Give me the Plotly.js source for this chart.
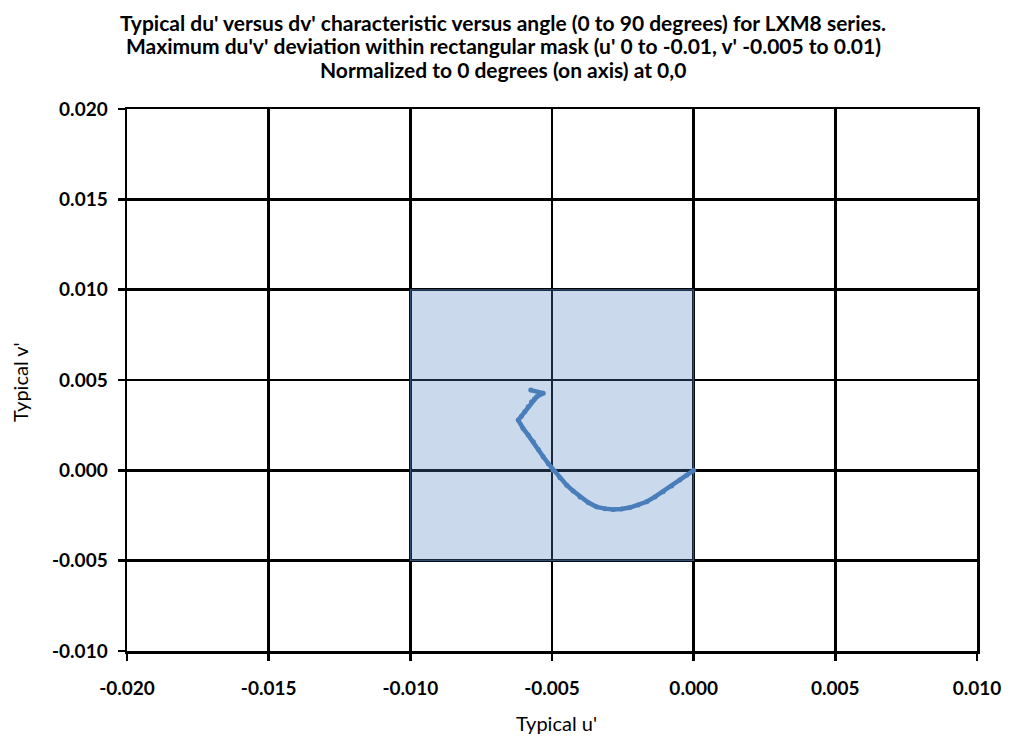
<!DOCTYPE html>
<html>
<head>
<meta charset="utf-8">
<script src="https://cdn.plot.ly/plotly-3.0.1.min.js"></script>
<style>html,body{margin:0;padding:0;background:#fff;}#chart{width:1010px;height:742px;}</style>
</head>
<body>
<div id="chart"></div>
<script>
// Measured curve (du', dv') versus angle 0..90 degrees
const curveU = [0.0000, -0.00025, -0.00049, -0.00078, -0.00108, -0.00137, -0.00166, -0.00196, -0.00225, -0.00255, -0.00284, -0.00313, -0.00343, -0.00372, -0.00401, -0.00425, -0.00448, -0.00472, -0.00496, -0.00513, -0.00531, -0.00548, -0.00566, -0.00584, -0.00602, -0.00619, -0.00608, -0.00596, -0.00584, -0.00572, -0.00562, -0.00554, -0.00531, -0.00575];
const curveV = [0.0000, -0.00027, -0.00054, -0.00087, -0.00119, -0.00147, -0.00174, -0.00192, -0.00206, -0.00214, -0.00217, -0.00212, -0.00202, -0.00178, -0.00147, -0.00115, -0.00082, -0.00041, 0.0000, 0.00037, 0.00075, 0.00116, 0.00158, 0.00195, 0.00232, 0.00278, 0.00300, 0.00324, 0.00352, 0.00379, 0.00395, 0.00407, 0.00427, 0.00444];
// Rectangular mask (u' 0 to -0.01, v' -0.005 to 0.01)
const maskU = [-0.010, 0.000, 0.000, -0.010, -0.010];
const maskV = [-0.005, -0.005, 0.010, 0.010, -0.005];
const xTicks = [-0.020, -0.015, -0.010, -0.005, 0.000, 0.005, 0.010];
const yTicks = [-0.010, -0.005, 0.000, 0.005, 0.010, 0.015, 0.020];
const xTickText = xTicks.map(v => '<b>' + v.toFixed(3) + '</b>');
const yTickText = yTicks.map(v => '<b>' + v.toFixed(3) + '</b>');
const titleLines = [
  "Typical du' versus dv' characteristic versus angle (0 to 90 degrees) for LXM8 series.",
  "Maximum du'v' deviation within rectangular mask (u' 0 to -0.01, v' -0.005 to 0.01)",
  "Normalized to 0 degrees (on axis) at 0,0"
];
const xTitle = "Typical u'";
const yTitle = "Typical v'";

const FONT = 'Lato, "Open Sans", sans-serif';

const traces = [
  {
    x: maskU, y: maskV, type: 'scatter', mode: 'lines',
    fill: 'toself', fillcolor: 'rgba(79,129,189,0.30)',
    line: {color: 'rgba(79,129,189,0.6)', width: 1},
    hoverinfo: 'skip', showlegend: false
  },
  {
    x: curveU, y: curveV, type: 'scatter', mode: 'lines+markers',
    line: {color: '#4a7ebb', width: 4.5},
    marker: {color: '#4a7ebb', size: 5},
    showlegend: false
  }
];

const axisCommon = {
  showgrid: true, gridcolor: '#000', gridwidth: 2.5,
  zeroline: false, showline: true, linecolor: '#000', linewidth: 2.5, mirror: true,
  ticks: 'outside', ticklen: 7, tickwidth: 2.5, tickcolor: '#000',
  tickfont: {family: FONT, size: 19, color: '#000'},
  fixedrange: true
};

const titleY = [22, 46, 69];
const annotations = titleLines.map((t, i) => ({
  text: '<b>' + t + '</b>', xref: 'paper', yref: 'paper',
  x: (503 - 127) / 850, y: 1 + (109 - titleY[i]) / 542,
  xanchor: 'center', yanchor: 'middle', showarrow: false,
  font: {family: FONT, size: 21, color: '#000'}
}));
annotations.push({
  text: xTitle, xref: 'paper', yref: 'paper', x: 0.505, y: (651 - 723) / 542,
  xanchor: 'center', yanchor: 'middle', showarrow: false,
  font: {family: FONT, size: 20, color: '#000'}
});
annotations.push({
  text: yTitle, xref: 'paper', yref: 'paper', x: (20 - 127) / 850, y: (651 - 382) / 542,
  xanchor: 'center', yanchor: 'middle', showarrow: false, textangle: -90,
  font: {family: FONT, size: 20, color: '#000'}
});

const layout = {
  width: 1010, height: 742,
  margin: {l: 127, r: 33, t: 109, b: 91},
  paper_bgcolor: '#fff', plot_bgcolor: '#fff',
  xaxis: Object.assign({}, axisCommon, {
    range: [-0.020, 0.010], tickvals: xTicks, ticktext: xTickText, ticklabelstandoff: 12
  }),
  yaxis: Object.assign({}, axisCommon, {
    range: [-0.010, 0.020], tickvals: yTicks, ticktext: yTickText, ticklabelstandoff: 6
  }),
  annotations: annotations
};

Plotly.newPlot('chart', traces, layout, {displayModeBar: false, staticPlot: true});
</script>
</body>
</html>
